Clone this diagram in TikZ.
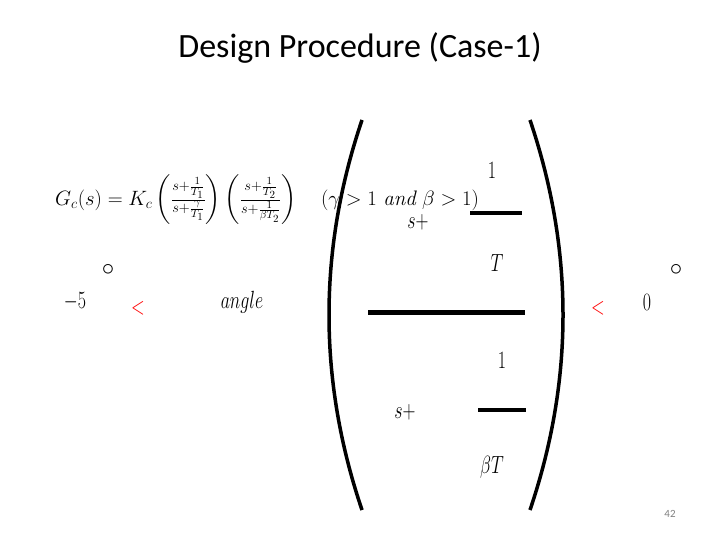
\documentclass[tikz,border=0pt]{standalone}
\usepackage{fontspec}
\usepackage{amsmath}
\newfontfamily\carl{Carlito}
\begin{document}
\begin{tikzpicture}[x=1pt,y=-1pt,
  big/.style={inner sep=0pt,font=\fontsize{95}{95}\selectfont,xscale=0.72},
  bar/.style={line width=5pt}]
\useasboundingbox (0,0) rectangle (720,540);
\node[font=\carl\fontsize{34}{40}\selectfont] (title) at (360,48) {Design Procedure (Case-1)};
\node[font=\fontsize{21}{24}\selectfont,anchor=west,inner sep=0pt] (gc) at (55,200)
 {$G_c(s)=K_c\left(\frac{s+\frac{1}{T_1}}{s+\frac{\gamma}{T_1}}\right)\left(\frac{s+\frac{1}{T_2}}{s+\frac{1}{\beta T_2}}\right)\quad(\gamma>1\ \mathit{and}\ \beta>1)$};
% big expression
\node[big] (m5) at (75,302) {$-5$};
\node[font=\fontsize{30}{30}\selectfont,inner sep=0pt] (d1) at (108,270) {$\circ$};
\node[big,text=red] (lt1) at (138,308) {$<$};
\node[big] (ang) at (242,302) {$angle$};
\node[big] (num) at (418,222) {$s+$};
\node[big] (n1) at (492,170) {$1$};
\draw[line width=4pt] (470,213) -- (522,213);
\node[big] (nT) at (497,263) {$T$};
\draw[line width=5pt] (368,312) -- (525,312);
\node[big] (den) at (405,412) {$s+$};
\node[big] (d1n) at (502,360) {$1$};
\draw[line width=4pt] (478,410) -- (526,410);
\node[big] (bT) at (492,467) {$\beta T$};
\draw[line width=3.5pt] (362,120) .. controls (318,250) and (318,380) .. (362,510);
\draw[line width=3.5pt] (530,120) .. controls (574,250) and (574,380) .. (530,510);
\node[big,text=red] (lt2) at (598,308) {$<$};
\node[big] (z) at (647,302) {$0$};
\node[font=\fontsize{30}{30}\selectfont,inner sep=0pt] (d2) at (676,270) {$\circ$};
\node[font=\carl\fontsize{11}{12}\selectfont,text=gray] (pg) at (670,514) {42};
\end{tikzpicture}
\end{document}
